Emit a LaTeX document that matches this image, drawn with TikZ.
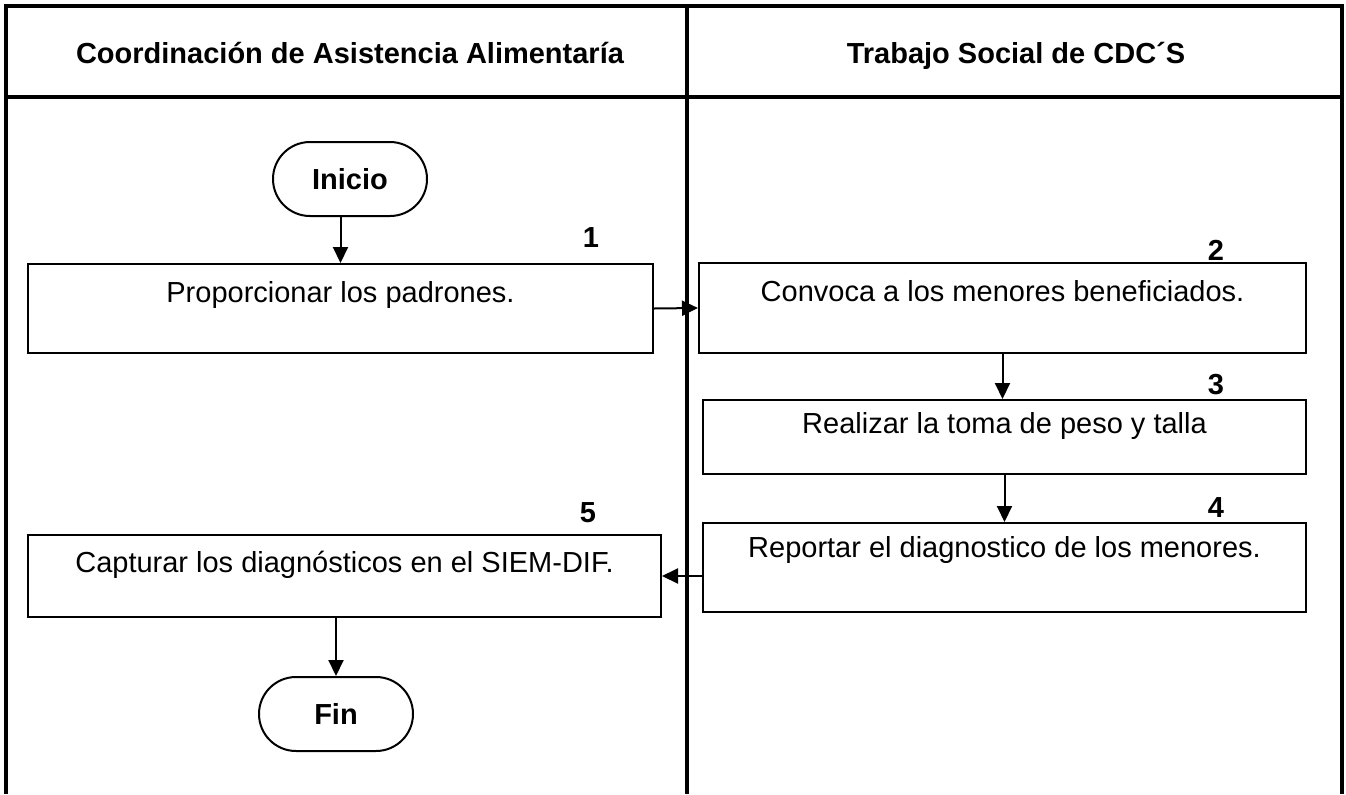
\documentclass[tikz,border=0pt]{standalone}
\usepackage{fontspec}
\setmainfont{Liberation Sans}
\usetikzlibrary{arrows.meta,positioning}

\tikzstyle{lane}=[draw=black,line width=1.8pt]
\tikzstyle{task}=[draw=black,line width=1pt,inner sep=0pt,font=\fontsize{14.5}{17}\selectfont]
\tikzstyle{term}=[draw=black,line width=1pt,rounded corners=18.5pt,minimum width=77pt,minimum height=37pt,inner sep=0pt,font=\fontsize{14.5}{17}\selectfont\bfseries]
\tikzstyle{head}=[inner sep=0pt,anchor=base,font=\fontsize{14.5}{17}\selectfont\bfseries]
\tikzstyle{num}=[inner sep=0pt,font=\fontsize{14.5}{17}\selectfont\bfseries]
\tikzstyle{flow}=[draw=black,line width=1pt,-{Triangle[length=8pt,width=7.5pt]}]

\begin{document}
\begin{tikzpicture}[x=0.5pt,y=-0.5pt]
\useasboundingbox (0,0) rectangle (1346,794);
% Lanes

   \draw[lane] (6,794) -- (6,6) -- (1342,6) -- (1342,794);
   \draw[lane] (6,97) -- (1342,97);
   \draw[lane] (687,6) -- (687,794);
   \node[head] (hcaa) at (350,63) {Coordinación de Asistencia Alimentaría};
   \node[head] (htsc) at (1016,63) {Trabajo Social de CDC´S};

% Steps
   \node[term] (ini) at (350,179) {Inicio};
   \node[task,minimum width=312.5pt,text height=19pt,text depth=25.5pt] (b1) at (340.5,308.5) {Proporcionar los padrones.};
   \node[task,minimum width=303.5pt,text height=19pt,text depth=26pt] (b2) at (1002.5,308) {Convoca a los menores beneficiados.};
   \node[task,minimum width=301.5pt,text height=16.5pt,text depth=20.5pt] (b3) at (1004.5,437) {Realizar la toma de peso y talla};
   \node[task,minimum width=301.5pt,text height=17pt,text depth=27.5pt] (b4) at (1004.5,567.5) {Reportar el diagnostico de los menores.};
   \node[task,minimum width=316.5pt,text height=18.5pt,text depth=22.5pt] (b5) at (344.5,576) {Capturar los diagnósticos en el SIEM-DIF.};
   \node[term] (fin) at (336,714) {Fin};

   \node[num] (n1) at (591,238) {1};
   \node[num] (n2) at (1216,250) {2};
   \node[num] (n3) at (1216,385) {3};
   \node[num] (n4) at (1216,508) {4};
   \node[num] (n5) at (588,513) {5};

% Arrows
   \draw[flow] (ini.south -| b1.north) -- (b1.north);
   \draw[flow] (b1.east) -- (b2.west);
   \draw[flow] (b2.south) -- (b2.south |- b3.north);
   \draw[flow] (b3.south) -- (b3.south |- b4.north);
   \draw[flow] (b4.west |- b5.east) -- (b5.east);
   \draw[flow] (b5.south -| fin.north) -- (fin.north);

\end{tikzpicture}
\end{document}
